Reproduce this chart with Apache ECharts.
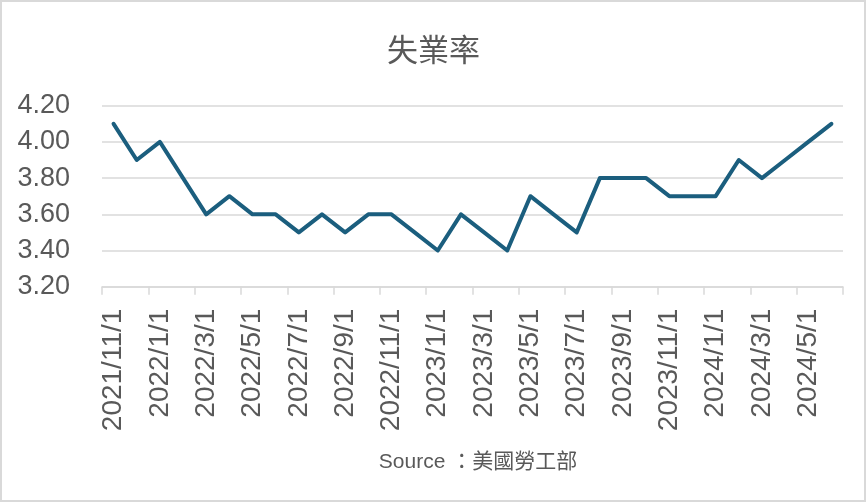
<!DOCTYPE html>
<html>
<head>
<meta charset="utf-8">
<script src="https://cdn.jsdelivr.net/npm/echarts@6/dist/echarts.min.js"></script>
<style>
html,body{margin:0;padding:0;background:#fff;}
#chart{width:867px;height:503px;}
</style>
</head>
<body>
<div id="chart"></div>
<script>
var titleText = '失業率';
var sourceText = 'Source ：美國勞工部';
var categories = [
  '2021/11/1','2021/12/1',
  '2022/1/1','2022/2/1','2022/3/1','2022/4/1','2022/5/1','2022/6/1',
  '2022/7/1','2022/8/1','2022/9/1','2022/10/1','2022/11/1','2022/12/1',
  '2023/1/1','2023/2/1','2023/3/1','2023/4/1','2023/5/1','2023/6/1',
  '2023/7/1','2023/8/1','2023/9/1','2023/10/1','2023/11/1','2023/12/1',
  '2024/1/1','2024/2/1','2024/3/1','2024/4/1','2024/5/1','2024/6/1'
];
var unemployment = [
  4.1, 3.9,
  4.0, 3.8, 3.6, 3.7, 3.6, 3.6,
  3.5, 3.6, 3.5, 3.6, 3.6, 3.5,
  3.4, 3.6, 3.5, 3.4, 3.7, 3.6,
  3.5, 3.8, 3.8, 3.8, 3.7, 3.7,
  3.7, 3.9, 3.8, 3.9, 4.0, 4.1
];
var yMin = 3.2, yMax = 4.2, yStep = 0.2;

var chart = echarts.init(document.getElementById('chart'), null, {renderer: 'canvas'});
var latin = '"Liberation Sans", Arial, "Noto Sans CJK TC", sans-serif';
chart.setOption({
  animation: false,
  backgroundColor: '#ffffff',
  graphic: [{
    type: 'rect',
    shape: {x: 1, y: 1, width: 864, height: 500},
    style: {fill: 'none', stroke: '#d9d9d9', lineWidth: 2},
    silent: true
  }],
  title: [{
    text: titleText,
    left: 'center',
    top: 29,
    textStyle: {fontFamily: '"Noto Sans CJK TC", sans-serif', fontSize: 31, fontWeight: 'normal', color: '#595959'}
  }, {
    text: sourceText,
    left: 473,
    textAlign: 'center',
    top: 447,
    textStyle: {fontFamily: latin, fontSize: 21, fontWeight: 'normal', color: '#595959'}
  }],
  grid: {left: 102, right: 24, top: 105.7, bottom: 216.3, containLabel: false},
  xAxis: {
    type: 'category',
    data: categories,
    boundaryGap: true,
    axisLine: {lineStyle: {color: '#d9d9d9', width: 1.5}},
    axisTick: {show: true, interval: 1, length: 8, lineStyle: {color: '#d9d9d9', width: 1.5}},
    axisLabel: {
      interval: 1,
      rotate: 90,
      margin: 22,
      fontFamily: latin,
      fontSize: 28,
      color: '#595959'
    }
  },
  yAxis: {
    type: 'value',
    min: yMin,
    max: yMax,
    interval: yStep,
    axisLine: {show: false},
    axisTick: {show: false},
    splitLine: {lineStyle: {color: '#d9d9d9', width: 1.5}},
    axisLabel: {
      margin: 32,
      fontFamily: latin,
      fontSize: 27,
      color: '#595959',
      formatter: function (v) { return v.toFixed(2); }
    }
  },
  series: [{
    type: 'line',
    data: unemployment,
    symbol: 'none',
    lineStyle: {color: '#1b5e7e', width: 4, join: 'round', cap: 'round'},
    itemStyle: {color: '#1b5e7e'}
  }]
});
</script>
</body>
</html>
